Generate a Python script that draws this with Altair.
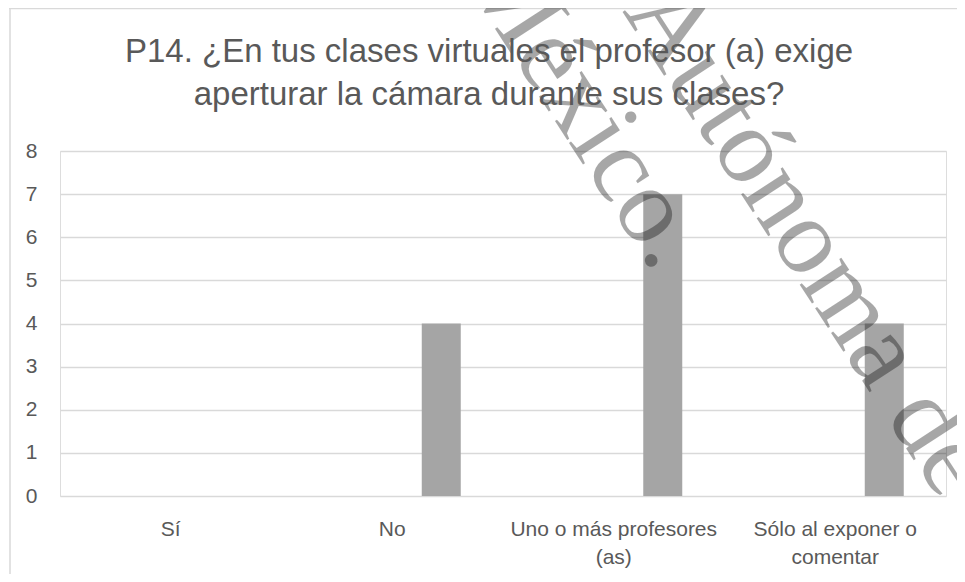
import altair as alt
import pandas as pd

# Data
categorias = ["Sí", "No", "Uno o más profesores (as)", "Sólo al exponer o comentar"]
etiquetas = [["Sí"], ["No"], ["Uno o más profesores", "(as)"], ["Sólo al exponer o", "comentar"]]
valores = [0, 4, 7, 4]
serie = "Respuestas"

titulo = ["P14. ¿En tus clases virtuales el profesor (a) exige",
          "aperturar la cámara durante sus clases?"]
marca_agua = ["México.", "Autónoma de"]

df = pd.DataFrame({"categoria": categorias, "valor": valores, "serie": [serie] * len(categorias)})

label_expr = " : ".join(
    [f"datum.value == {c!r} ? {e!r}" for c, e in zip(categorias, etiquetas)]
) + " : datum.value"

GRAY_TXT = "#595959"
FONT = "Liberation Sans"

x_enc = alt.X(
    "categoria:N",
    sort=categorias,
    scale=alt.Scale(paddingInner=0, paddingOuter=0),
    axis=alt.Axis(
        title=None, labelAngle=0, domain=False, ticks=False,
        labelFontSize=21, labelColor=GRAY_TXT, labelFont=FONT,
        labelPadding=22, labelLineHeight=28, labelExpr=label_expr,
        labelBaseline="top", labelLimit=400,
    ),
)

bars = alt.Chart(df).mark_bar(color="#a5a5a5", width=39).encode(
    x=x_enc,
    xOffset=alt.XOffset(
        "serie:N",
        scale=alt.Scale(domain=["_", serie], paddingInner=0, paddingOuter=0.13),
    ),
    y=alt.Y(
        "valor:Q",
        scale=alt.Scale(domain=[0, 8], nice=False),
        axis=alt.Axis(
            title=None, values=list(range(0, 9)), domain=False, ticks=False,
            grid=True, gridColor="#d9d9d9", gridWidth=1.6,
            labelFontSize=21, labelColor=GRAY_TXT, labelFont=FONT, labelPadding=23,
        ),
    ),
)

wm1 = alt.Chart(pd.DataFrame({"t": [marca_agua[0]]})).mark_text(
    font="Liberation Serif", fontSize=108, angle=57, align="left", baseline="alphabetic",
    color="black", opacity=0.34,
).encode(text="t:N", x=alt.value(400), y=alt.value(-176))
wm2 = alt.Chart(pd.DataFrame({"t": [marca_agua[1]]})).mark_text(
    font="Liberation Serif", fontSize=108, angle=57, align="left", baseline="alphabetic",
    color="black", opacity=0.34,
).encode(text="t:N", x=alt.value(562), y=alt.value(-140))

border_top = alt.Chart(pd.DataFrame({"a": [0]})).mark_rule(color="#d9d9d9", strokeWidth=1.5).encode(
    x=alt.value(-51), x2=alt.value(905), y=alt.value(-142.5)
)
border_left = alt.Chart(pd.DataFrame({"a": [0]})).mark_rule(color="#d9d9d9", strokeWidth=1.5).encode(
    x=alt.value(-50), y=alt.value(-143), y2=alt.value(431)
)

chart = alt.layer(bars, border_top, border_left, wm1, wm2).properties(
    width=886,
    height=345,
    autosize=alt.AutoSizeParams(type="none"),
    padding={"left": 52, "top": 143, "right": 11, "bottom": 78},
    title=alt.TitleParams(
        text=titulo, fontSize=33, font=FONT, color=GRAY_TXT, fontWeight="normal",
        anchor="middle", lineHeight=43, offset=-184, dx=-14,
    ),
).configure_view(stroke=None).configure(background="white")

chart.save("out.html", embed_options={"renderer": "svg", "actions": False})
